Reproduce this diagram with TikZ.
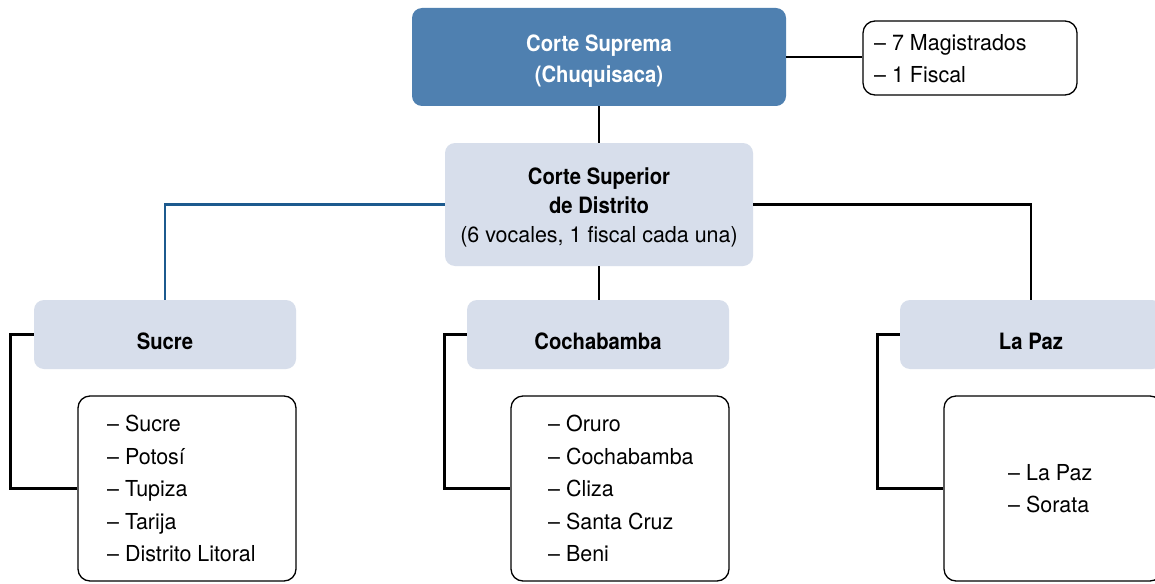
\documentclass[tikz,border=0pt]{standalone}
\usepackage{fontspec}
\setmainfont{TeX Gyre Heros}[FakeStretch=0.975]
\newfontfamily\headfont{TeX Gyre Heros}[FakeStretch=0.9]
\definecolor{supblue}{HTML}{4F80B0}
\definecolor{lightbox}{HTML}{D7DEEB}
\definecolor{blueline}{HTML}{1C5A8E}
\begin{document}
\begin{tikzpicture}[x=1pt,y=-1pt,
  topbox/.style={fill=supblue, draw=none, rounded corners=10pt, inner sep=0pt},
  lbox/.style={fill=lightbox, draw=none, rounded corners=10pt, inner sep=0pt},
  wbox/.style={draw=black, line width=1.3pt, fill=white, rounded corners=12pt, inner sep=0pt},
  headtext/.style={inner sep=0pt, align=center, font=\headfont\bfseries\fontsize{22.5}{30}\selectfont},
  conn/.style={line width=2.8pt, draw=black},
  bconn/.style={line width=2.8pt, draw=blueline},
  listtext/.style={font=\fontsize{22}{32.5}\selectfont, align=left, inner sep=0pt, anchor=west}
]
\clip (0,0) rectangle (1155,583);
\fill[white] (0,0) rectangle (1155,583);

% top level
\node[topbox, minimum width=374, minimum height=98] (sup) at (599,57) {};
\node[headtext, text=white, font=\headfont\bfseries\fontsize{22.5}{31}\selectfont] (supt) at (599,61.5) {Corte Suprema\\(Chuquisaca)};
\node[wbox, minimum width=214, minimum height=74] (mag) at (970,58) {};
\node[listtext, font=\fontsize{22}{32}\selectfont] (magt) at (874,58.5) {– 7 Magistrados\\– 1 Fiscal};

% middle
\node[lbox, minimum width=308, minimum height=123] (cs) at (599,204.5) {};
\node[headtext, font=\headfont\bfseries\fontsize{22.5}{29}\selectfont] (cst) at (599,207.5)
  {Corte Superior\\de Distrito\\{\normalfont\mdseries\fontsize{22}{29}\selectfont (6 vocales, 1 fiscal cada una)}};

% districts
\node[lbox, minimum width=262, minimum height=69] (sucre) at (165,334.5) {};
\node[lbox, minimum width=262, minimum height=69] (coch) at (598,334.5) {};
\node[lbox, minimum width=262, minimum height=69] (lapaz) at (1031,334.5) {};
\node[headtext] (sucret) at (165,341) {Sucre};
\node[headtext] (locht) at (598,341) {Cochabamba};
\node[headtext] (lapazt) at (1031,341) {La Paz};

% lists
\node[wbox, minimum width=218, minimum height=185] (sl) at (187,488.5) {};
\node[wbox, minimum width=218, minimum height=185] (cl) at (620,488.5) {};
\node[wbox, minimum width=218, minimum height=185] (ll) at (1053,488.5) {};
\node[listtext] (slt) at (107,488.5) {– Sucre\\– Potosí\\– Tupiza\\– Tarija\\– Distrito Litoral};
\node[listtext] (clt) at (548,488.5) {– Oruro\\– Cochabamba\\– Cliza\\– Santa Cruz\\– Beni};
\node[listtext] (llt) at (1008,488.5) {– La Paz\\– Sorata};

% connectors
\draw[conn] (sup.east) -- (sup.east -| mag.west);
\draw[conn] (sup.south) -- (cs.north);
\draw[bconn] (cs.west) -| (sucre.north);
\draw[conn] (cs.east) -| (lapaz.north);
\draw[conn] (cs.south) -- (cs.south |- coch.north);
\draw[conn] (sucre.west) -- ++(-23,0) |- (sl.west);
\draw[conn] (coch.west) -- ++(-22,0) |- (cl.west);
\draw[conn] (lapaz.west) -- ++(-22,0) |- (ll.west);
\end{tikzpicture}
\end{document}
